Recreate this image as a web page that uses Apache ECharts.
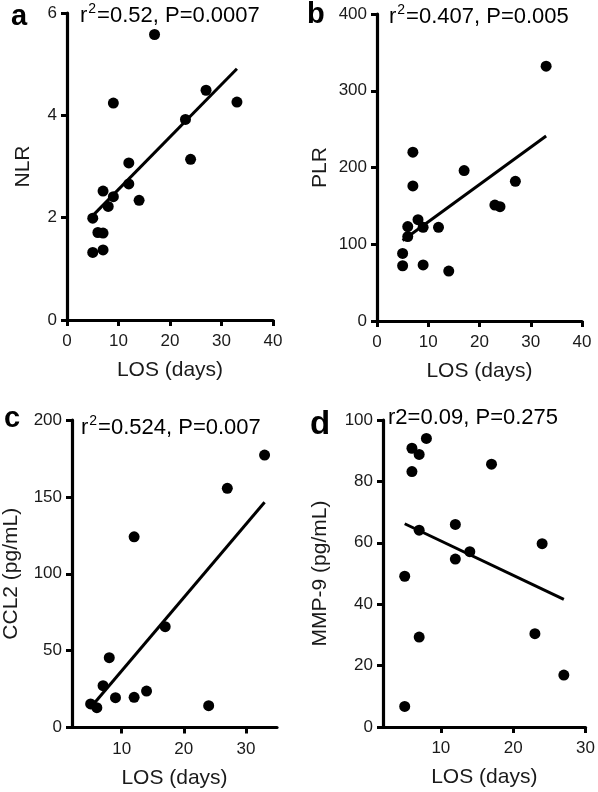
<!DOCTYPE html>
<html>
<head>
<meta charset="utf-8">
<script src="https://cdn.jsdelivr.net/npm/echarts@6/dist/echarts.min.js"></script>
<style>
html,body{margin:0;padding:0;background:#fff;}
#chart{width:598px;height:792px;}
</style>
</head>
<body>
<div id="chart"></div>
<script>
// ---- Data ----
// Panel a: LOS (days) vs NLR
const losA = [5, 5, 6, 7, 7, 7, 8, 9, 9, 12, 12, 14, 17, 23, 24, 27, 33];
const nlrA = [1.32, 1.99, 1.71, 1.70, 1.37, 2.52, 2.22, 2.41, 4.24, 3.07, 2.66, 2.34, 5.58, 3.92, 3.14, 4.49, 4.26];
const fitA = [[5, 2.04], [33, 4.91]];

// Panel b: LOS (days) vs PLR
const losB = [5, 5, 6, 6, 7, 7, 8, 9, 9, 12, 14, 17, 23, 24, 27, 33];
const plrB = [72, 88, 123, 110, 220, 176, 132, 122, 73, 122, 65, 196, 151, 149, 182, 332];
const fitB = [[5, 105], [33, 241]];

// Panel c: LOS (days) vs CCL2 (pg/mL)
const losC = [5, 6, 7, 8, 9, 12, 12, 14, 17, 24, 27, 33];
const ccl2C = [15.3, 12.9, 27.2, 45.4, 19.4, 124, 19.6, 23.7, 65.6, 14.2, 155.6, 177.2];
const fitC = [[5, 13], [33, 146.5]];

// Panel d: LOS (days) vs MMP-9 (pg/mL)
const losD = [5, 5, 6, 6, 7, 7, 7, 8, 12, 12, 14, 17, 23, 24, 27];
const mmp9D = [6.7, 49.1, 90.8, 83.2, 88.8, 64.1, 29.3, 94.0, 66.0, 54.7, 57.1, 85.6, 30.4, 59.7, 16.9];
const fitD = [[5, 66.2], [27, 41.6]];

// Tick labels / texts
const xTicksCD = [10, 20, 30];
const panelLetters = ['a', 'b', 'c', 'd'];
// stat texts: [before superscript, superscript, after]
const statTexts = [['r', '2', '=0.52, P=0.0007'], ['r', '2', '=0.407, P=0.005'], ['r', '2', '=0.524, P=0.007'], ['r2=0.09, P=0.275', '', '']];
const yNames = ['NLR', 'PLR', 'CCL2 (pg/mL)', 'MMP-9 (pg/mL)'];
const xName = 'LOS (days)';

// ---- Chart ----
const FONT = 'Liberation Sans, Arial, Helvetica, sans-serif';
const TXT = '#1a1a1a';
const chart = echarts.init(document.getElementById('chart'), null, {renderer: 'canvas'});

const grids = [
  {left: 67, top: 13, width: 206, height: 307},
  {left: 377, top: 14, width: 205, height: 307},
  {left: 71, top: 420, width: 206, height: 307.5},
  {left: 383, top: 420, width: 205, height: 307}
];

function xAxisCfg(i, min, max, interval, custom) {
  const a = {
    type: 'value', gridIndex: i, min: min, max: max,
    name: xName, nameLocation: 'middle', nameGap: 40,
    nameTextStyle: {fontFamily: FONT, fontSize: 21, color: TXT},
    axisLine: {show: true, onZero: false, lineStyle: {color: '#000', width: 3.2}},
    axisTick: {show: true, inside: false, length: 6, lineStyle: {color: '#000', width: 3}},
    axisLabel: {fontFamily: FONT, fontSize: 17, color: TXT, margin: 13},
    splitLine: {show: false}
  };
  if (custom) {
    a.axisTick.customValues = custom;
    a.axisLabel.customValues = custom;
  } else {
    a.interval = interval;
  }
  return a;
}
function yAxisCfg(i, max, interval, gap) {
  return {
    type: 'value', gridIndex: i, min: 0, max: max, interval: interval,
    name: yNames[i], nameLocation: 'middle', nameGap: gap, nameRotate: 90,
    nameTextStyle: {fontFamily: FONT, fontSize: 21, color: TXT},
    axisLine: {show: true, onZero: false, lineStyle: {color: '#000', width: 3.2}},
    axisTick: {show: true, inside: false, length: 6, lineStyle: {color: '#000', width: 3}},
    axisLabel: {fontFamily: FONT, fontSize: 17, color: TXT, margin: 10},
    splitLine: {show: false}
  };
}

function zip(xs, ys) { return xs.map((x, k) => [x, ys[k]]); }

const scatterData = [zip(losA, nlrA), zip(losB, plrB), zip(losC, ccl2C), zip(losD, mmp9D)];
const fits = [fitA, fitB, fitC, fitD];

const series = [];
for (let i = 0; i < 4; i++) {
  series.push({
    type: 'line', xAxisIndex: i, yAxisIndex: i, data: fits[i],
    symbol: 'none', lineStyle: {color: '#000', width: 3}, silent: true, z: 2
  });
  series.push({
    type: 'scatter', xAxisIndex: i, yAxisIndex: i, data: scatterData[i],
    symbol: 'circle', symbolSize: 11, itemStyle: {color: '#000', opacity: 1}, z: 3
  });
}

const letterPos = [[11, 2, 29], [307, 0, 29], [4, 404, 29], [310, 408, 33]];
const statPos = [[80, 16], [389, 17], [81, 428], [388, 418]];
const graphic = [];
for (let i = 0; i < 4; i++) {
  graphic.push({
    type: 'text', x: letterPos[i][0], y: letterPos[i][1],
    style: {text: panelLetters[i], font: 'bold ' + letterPos[i][2] + 'px ' + FONT, fill: '#000', textVerticalAlign: 'top'}
  });
  const s = statTexts[i];
  const txt = '{b|' + s[0] + '}' + (s[1] ? '{s|' + s[1] + '}' : '') + (s[2] ? '{b|' + s[2] + '}' : '');
  graphic.push({
    type: 'text', x: statPos[i][0], y: statPos[i][1],
    style: {
      text: txt, textVerticalAlign: 'middle', textAlign: 'left',
      rich: {
        b: {fontFamily: FONT, fontSize: 22, color: TXT, verticalAlign: 'bottom', lineHeight: 22},
        s: {fontFamily: FONT, fontSize: 14, color: TXT, verticalAlign: 'bottom', lineHeight: 14, padding: [0, 1, 11, 1]}
      }
    }
  });
}

chart.setOption({
  animation: false,
  backgroundColor: '#fff',
  grid: grids,
  xAxis: [
    xAxisCfg(0, 0, 40, 10),
    xAxisCfg(1, 0, 40, 10),
    xAxisCfg(2, 2, 35, null, xTicksCD),
    xAxisCfg(3, 2, 30, null, xTicksCD)
  ],
  yAxis: [
    yAxisCfg(0, 6, 2, 33),
    yAxisCfg(1, 400, 100, 46),
    yAxisCfg(2, 200, 50, 50),
    yAxisCfg(3, 100, 20, 52)
  ],
  series: series,
  graphic: graphic
});
</script>
</body>
</html>
